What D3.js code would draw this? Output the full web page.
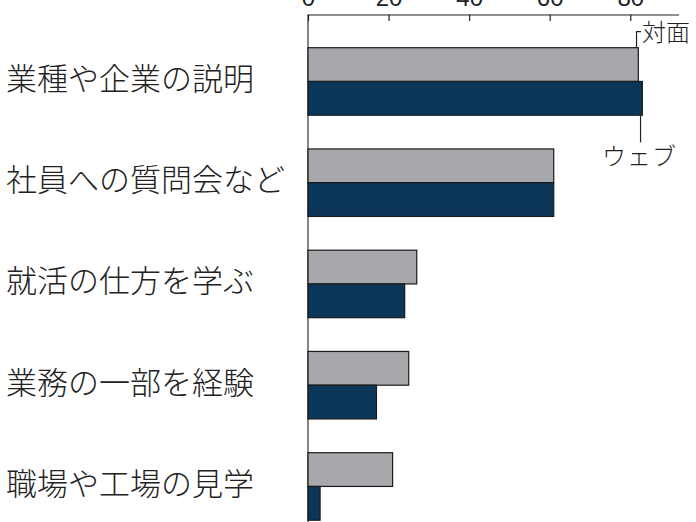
<!DOCTYPE html>
<html><head><meta charset="utf-8">
<script src="https://cdn.jsdelivr.net/npm/d3@7"></script>
<style>html,body{margin:0;padding:0;background:#fff;}svg{display:block;}</style>
</head><body>
<script>
const categories = ["業種や企業の説明","社員への質問会など","就活の仕方を学ぶ","業務の一部を経験","職場や工場の見学"];
const seriesNames = ["対面","ウェブ"];
const faceToFace = [82, 61, 27, 25, 21];
const web = [83, 61, 24, 17, 3];
const tickValues = [0, 20, 40, 60, 80];
const colors = ["#a7a8ab", "#0b3657"];

const W = 696, H = 522;
const svg = d3.select("body").append("svg").attr("width", W).attr("height", H);

const x = d3.scaleLinear().domain([0, 92]).range([308, 678.6]);
const y = d3.scaleBand().domain(categories).range([47.7, 520.2]).paddingInner(1/3).paddingOuter(0);
const ys = d3.scaleBand().domain(seriesNames).range([0, y.bandwidth()]);

const axisY = 14.5;
// left vertical line
svg.append("line").attr("x1", x(0)).attr("x2", x(0)).attr("y1", axisY).attr("y2", H)
  .attr("stroke", "#333").attr("stroke-width", 1.2);

const ax = svg.append("g").attr("transform", `translate(0,${axisY})`)
  .call(d3.axisTop(x).tickValues(tickValues).tickSizeInner(-6.5).tickSizeOuter(0).tickPadding(9).tickFormat(d3.format("d")));
ax.select(".domain").attr("stroke", "#222").attr("stroke-width", 1.2);
ax.selectAll(".tick line").attr("stroke", "#222").attr("stroke-width", 1.2);
ax.selectAll(".tick text").attr("font-family", "'Liberation Sans', Arial, sans-serif").attr("font-size", 24).attr("fill", "#222");

const rows = categories.map((c, i) => ({cat: c, vals: [faceToFace[i], web[i]]}));
const g = svg.append("g").selectAll("g").data(rows).join("g")
  .attr("transform", d => `translate(0,${y(d.cat)})`);
g.selectAll("rect").data(d => d.vals.map((v, j) => ({v, s: seriesNames[j], j}))).join("rect")
  .attr("x", x(0)).attr("y", d => ys(d.s)).attr("width", d => x(d.v) - x(0)).attr("height", ys.bandwidth())
  .attr("fill", d => colors[d.j]).attr("stroke", "#1a1a1a").attr("stroke-width", 1.2);

svg.append("g").selectAll("text").data(categories).join("text")
  .attr("x", 6).attr("y", d => y(d) + y.bandwidth() / 2 + 8.5)
  .attr("font-family", "'Noto Sans CJK JP', sans-serif").attr("font-weight", 300).attr("font-size", 31).attr("fill", "#222")
  .text(d => d);

// legend leaders
const c0 = categories[0];
const lx1 = x(faceToFace[0]) - 1.8;
svg.append("path").attr("d", `M${lx1},${y(c0)} V31.7 H${lx1 + 4.5}`)
  .attr("fill", "none").attr("stroke", "#222").attr("stroke-width", 1.2);
svg.append("text").attr("x", 642).attr("y", 41).attr("font-family", "'Noto Sans CJK JP', sans-serif").attr("font-weight", 300)
  .attr("font-size", 24).attr("fill", "#222").text(seriesNames[0]);
const lx2 = x(web[0]) - 1.8;
svg.append("line").attr("x1", lx2).attr("x2", lx2).attr("y1", y(c0) + y.bandwidth()).attr("y2", 142.3)
  .attr("stroke", "#222").attr("stroke-width", 1.2);
svg.append("text").attr("x", 602).attr("y", 165).attr("font-family", "'Noto Sans CJK JP', sans-serif").attr("font-weight", 300)
  .attr("font-size", 24).attr("fill", "#222").attr("letter-spacing", 1).text(seriesNames[1]);
</script>
</body></html>
